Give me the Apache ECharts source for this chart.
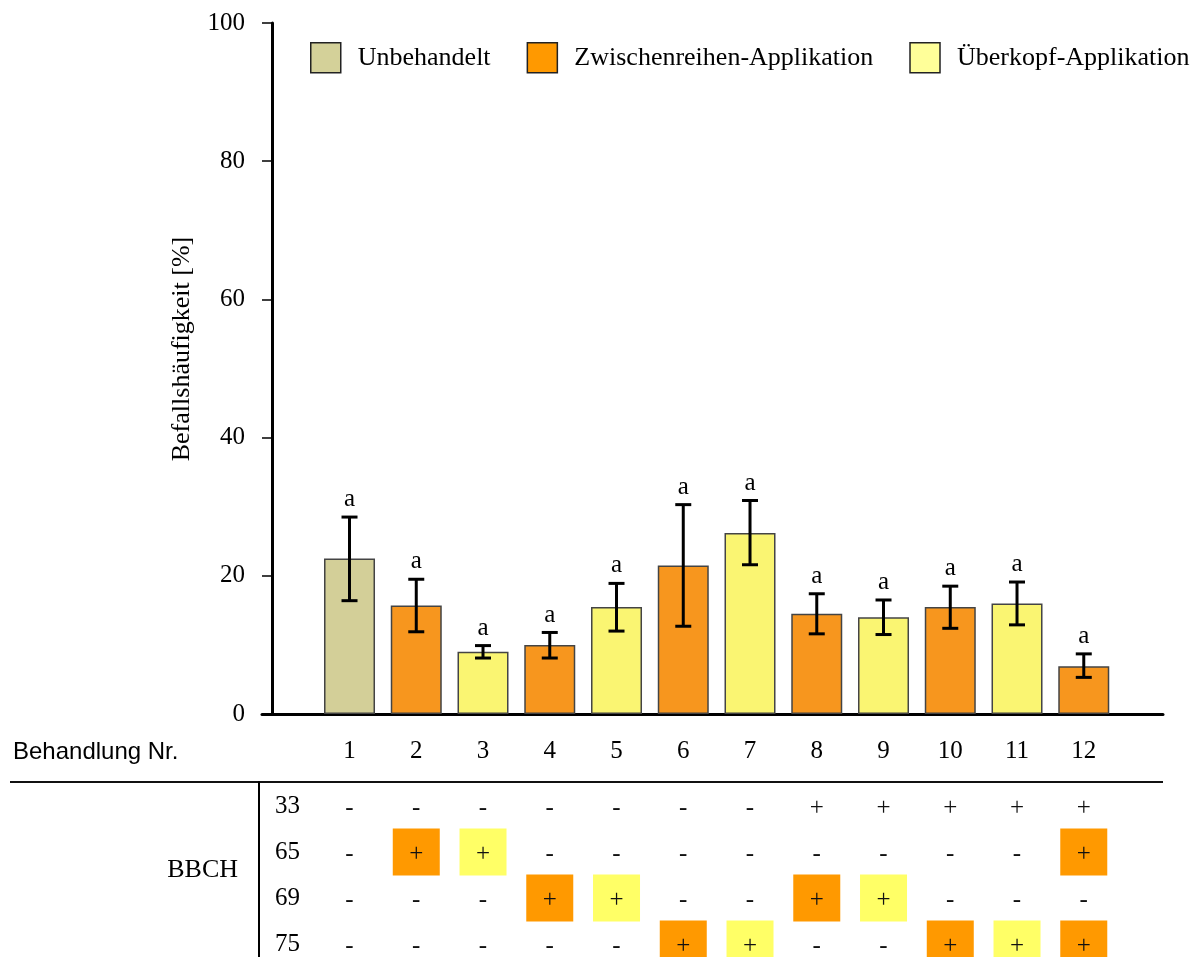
<!DOCTYPE html>
<html><head><meta charset="utf-8">
<script src="https://cdn.jsdelivr.net/npm/echarts@6/dist/echarts.min.js"></script>
<style>html,body{margin:0;padding:0;background:#fff}#c{width:1193px;height:957px}</style>
</head><body><div id="c"></div>
<script>
// ---- data ----
const categories = ['1','2','3','4','5','6','7','8','9','10','11','12'];
const groups = ['U','Z','O','Z','O','Z','O','Z','O','Z','O','Z'];
const means   = [22.5, 15.7, 9.0, 10.0, 15.5, 21.5, 26.2, 14.5, 14.0, 15.5, 16.0, 6.9];
const errLow  = [16.4, 11.9, 8.1, 8.1, 12.0, 12.7, 21.6, 11.6, 11.5, 12.4, 12.9, 5.3];
const errHigh = [28.5, 19.5, 9.9, 11.8, 18.9, 30.3, 30.9, 17.4, 16.5, 18.5, 19.1, 8.7];
const letters = ['a','a','a','a','a','a','a','a','a','a','a','a'];
const yTicks = [0, 20, 40, 60, 80, 100];
const seriesNames = ['Unbehandelt', 'Zwischenreihen-Applikation', 'Überkopf-Applikation'];
const groupKeys = ['U', 'Z', 'O'];
const bbchRows = ['33', '65', '69', '75'];
// cell codes: '-' none, '+' applied, 'Z' Zwischenreihen, 'O' Überkopf
const bbch33 = ['-','-','-','-','-','-','-','+','+','+','+','+'];
const bbch65 = ['-','Z','O','-','-','-','-','-','-','-','-','Z'];
const bbch69 = ['-','-','-','Z','O','-','-','Z','O','-','-','-'];
const bbch75 = ['-','-','-','-','-','Z','O','-','-','Z','O','Z'];

// ---- styles ----
const SERIF = '"Liberation Serif", "Times New Roman", serif';
const SANS = '"Liberation Sans", Arial, sans-serif';
const barColors = { U: '#d3cf98', Z: '#f7961e', O: '#faf572' };
const legendColors = { U: '#d4d199', Z: '#ff9900', O: '#ffff99' };
const cellColors = { Z: '#ff9900', O: '#ffff66' };

const tableRows = [bbch33, bbch65, bbch69, bbch75];
const cells = [];
tableRows.forEach((row, r) => row.forEach((code, c) => cells.push({ value: [c + 1, r], code: code })));

const chart = echarts.init(document.getElementById('c'));

const barSeries = groupKeys.map((g, gi) => ({
  type: 'bar',
  name: seriesNames[gi],
  xAxisIndex: 0, yAxisIndex: 0,
  barWidth: 51,
  barGap: '-100%',
  itemStyle: { color: barColors[g], borderColor: '#444', borderWidth: 1.5 },
  data: categories.map((c, i) => groups[i] === g ? [i + 1, means[i]] : null).filter(d => d),
  z: 2
}));

const errSeries = {
  type: 'custom',
  xAxisIndex: 0, yAxisIndex: 0,
  z: 5,
  silent: true,
  data: categories.map((c, i) => [i + 1, errLow[i], errHigh[i]]),
  renderItem: function (params, api) {
    const x = api.value(0);
    const lo = api.coord([x, api.value(1)]);
    const hi = api.coord([x, api.value(2)]);
    const cap = 8;
    const st = { stroke: '#000', lineWidth: 3 };
    return {
      type: 'group',
      children: [
        { type: 'line', shape: { x1: lo[0], y1: lo[1], x2: hi[0], y2: hi[1] }, style: st },
        { type: 'line', shape: { x1: lo[0] - cap, y1: lo[1], x2: lo[0] + cap, y2: lo[1] }, style: st },
        { type: 'line', shape: { x1: hi[0] - cap, y1: hi[1], x2: hi[0] + cap, y2: hi[1] }, style: st },
        { type: 'text', x: hi[0], y: hi[1] - 5,
          style: { text: letters[params.dataIndex], align: 'center', verticalAlign: 'bottom',
                   fontFamily: SERIF, fontSize: 25, fill: '#000' } }
      ]
    };
  }
};

const tableSeries = {
  type: 'custom',
  xAxisIndex: 1, yAxisIndex: 1,
  silent: true,
  clip: false,
  data: cells.map(c => c.value),
  renderItem: function (params, api) {
    const code = cells[params.dataIndex].code;
    const p = api.coord([api.value(0), api.value(1)]);
    const children = [];
    if (cellColors[code]) {
      children.push({ type: 'rect', shape: { x: p[0] - 23.5, y: p[1] - 23.5, width: 47, height: 47 },
                      style: { fill: cellColors[code] } });
    }
    children.push({ type: 'text', x: p[0], y: p[1] + 2,
      style: { text: code === '-' ? '-' : '+', align: 'center', verticalAlign: 'middle',
               fontFamily: SERIF, fontSize: 25, fill: '#111' } });
    return { type: 'group', children: children };
  }
};

chart.setOption({
  animation: false,
  backgroundColor: '#fff',
  grid: [
    { left: 262, right: 30, top: 23, bottom: 243, containLabel: false, outerBoundsMode: 'none' },
    { left: 259, right: 30, top: 782, bottom: 0, containLabel: false, outerBoundsMode: 'none' }
  ],
  legend: {
    left: 310, top: 42, width: 883, padding: 0,
    orient: 'horizontal',
    itemWidth: 30, itemHeight: 30, itemGap: 36,
    icon: 'rect',
    selectedMode: false,
    textStyle: { fontFamily: SERIF, fontSize: 26, color: '#000', padding: [0, 0, 0, 12] },
    data: seriesNames.map((n, i) => ({ name: n, itemStyle: { color: legendColors[groupKeys[i]], borderColor: '#222', borderWidth: 1.5 } }))
  },
  xAxis: [
    {
      type: 'value', gridIndex: 0, min: -0.311, max: 13.187,
      axisLine: { show: true, onZero: false, lineStyle: { color: '#000', width: 3 } },
      axisTick: { show: false },
      splitLine: { show: false },
      axisLabel: {
        show: true, customValues: categories.map((c, i) => i + 1),
        formatter: v => categories[Math.round(v) - 1] || '',
        margin: 25, fontFamily: SERIF, fontSize: 25, color: '#000'
      }
    },
    {
      type: 'value', gridIndex: 1, min: -0.356, max: 13.187, show: false,
      splitLine: { show: false }
    }
  ],
  yAxis: [
    {
      type: 'value', gridIndex: 0, min: 0, max: 100, interval: 20,
      offset: -10,
      axisLine: { show: true, onZero: false, lineStyle: { color: '#000', width: 3 } },
      axisTick: { show: true, length: 10, lineStyle: { color: '#000', width: 1.5 } },
      splitLine: { show: false },
      axisLabel: { margin: 27, fontFamily: SERIF, fontSize: 25, color: '#000',
                   customValues: yTicks }
    },
    {
      type: 'value', gridIndex: 1, inverse: true, min: -0.522, max: 3.283,
      axisLine: { show: true, onZero: false, lineStyle: { color: '#000', width: 2 } },
      axisTick: { show: false },
      splitLine: { show: false },
      axisLabel: {
        inside: true, margin: 16, customValues: bbchRows.map((r, i) => i),
        formatter: v => bbchRows[Math.round(v)] || '',
        fontFamily: SERIF, fontSize: 25, color: '#000', verticalAlign: 'middle'
      }
    }
  ],
  graphic: [
    { type: 'text', x: 182, y: 349, rotation: Math.PI / 2,
      style: { text: 'Befallshäufigkeit [%]', align: 'center', verticalAlign: 'middle',
               fontFamily: SERIF, fontSize: 26, fill: '#000' } },
    { type: 'text', x: 13, y: 752,
      style: { text: 'Behandlung Nr.', align: 'left', verticalAlign: 'middle',
               fontFamily: SANS, fontSize: 24, fill: '#000' } },
    { type: 'text', x: 238, y: 870,
      style: { text: 'BBCH', align: 'right', verticalAlign: 'middle',
               fontFamily: SERIF, fontSize: 26, fill: '#000' } },
    { type: 'line', shape: { x1: 10, y1: 782, x2: 1163, y2: 782 },
      style: { stroke: '#111', lineWidth: 2 } }
  ],
  series: barSeries.concat([errSeries, tableSeries])
});
</script>
</body></html>
